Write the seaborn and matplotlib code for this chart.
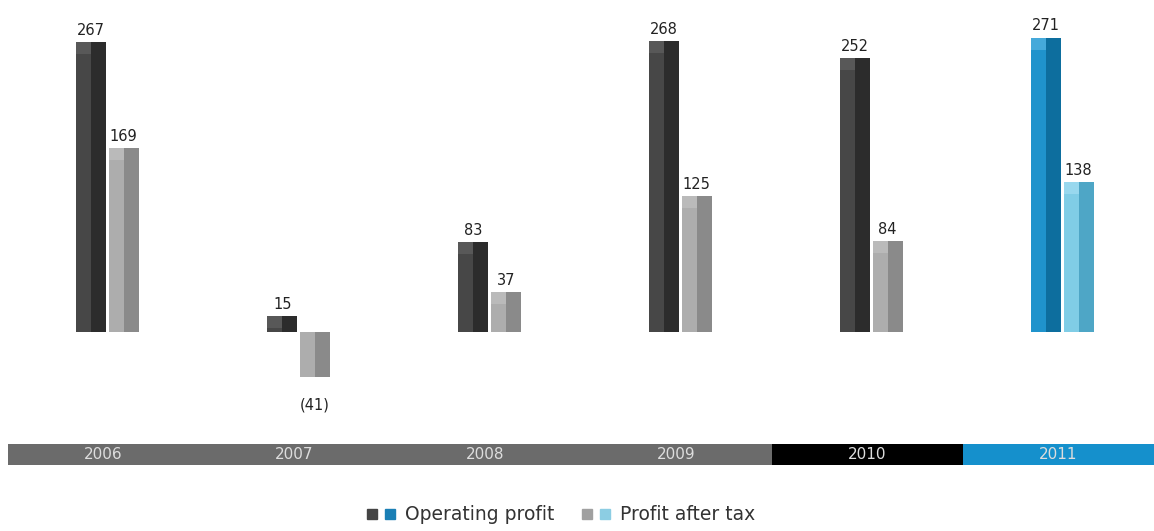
import pandas as pd
import matplotlib.pyplot as plt
import seaborn as sns
from matplotlib.patches import Rectangle
from matplotlib.lines import Line2D
from matplotlib.legend_handler import HandlerTuple

# data
years = ['2006', '2007', '2008', '2009', '2010', '2011']
operating_profit = [267, 15, 83, 268, 252, 271]
profit_after_tax = [169, -41, 37, 125, 84, 138]
series = ['Operating profit', 'Profit after tax']
band_colors = ['#6b6b6b', '#6b6b6b', '#6b6b6b', '#6b6b6b', '#000000', '#1590cc']

df = pd.DataFrame({
    'Year': years * 2,
    'Series': [series[0]] * len(years) + [series[1]] * len(years),
    'Value': operating_profit + profit_after_tax,
})

sns.set_style('white')
plt.rcParams['font.family'] = ['DejaVu Sans']

W, H = 1154, 531
fig = plt.figure(figsize=(W / 100, H / 100), dpi=100)
ax = fig.add_axes([12 / W, 91 / H, 1146 / W, 440 / H])

sns.barplot(data=df, x='Year', y='Value', hue='Series',
            palette=['#474747', '#ababab'], width=0.34, gap=0.09,
            saturation=1, legend=False, ax=ax)

# light (left) and dark (right) halves for the two-tone look
light = [['#474747'] * 5 + ['#1f93cc'], ['#adadad'] * 5 + ['#80cde6']]
dark = [['#2c2c2c'] * 5 + ['#0d6e9e'], ['#8a8a8a'] * 5 + ['#4ea6c6']]
caps = [['#585858'] * 5 + ['#45a9da'], ['#bababa'] * 5 + ['#98d8ee']]

k = 267 / 290  # data units per pixel
for s, cont in enumerate(ax.containers):
    for i, bar in enumerate(cont):
        bar.set_facecolor(light[s][i])
        bar.set_edgecolor('none')
        x0, w, h = bar.get_x(), bar.get_width(), bar.get_height()
        ax.add_patch(Rectangle((x0 + w / 2, bar.get_y()), w / 2, h,
                               facecolor=dark[s][i], edgecolor='none'))
        if h > 0:
            cap = min(12 * k, h)
            ax.add_patch(Rectangle((x0, h - cap), w / 2, cap,
                                   facecolor=caps[s][i], edgecolor='none'))
        xc = x0 + w / 2
        if h >= 0:
            ax.annotate(f'{h:.0f}', (xc, h), xytext=(0, 3), textcoords='offset points',
                        ha='center', va='bottom', fontsize=10.5, color='#222222')
        else:
            ax.annotate(f'({abs(h):.0f})', (xc, h), xytext=(0, -15), textcoords='offset points',
                        ha='center', va='top', fontsize=10.5, color='#222222')

ax.set_ylim(-(440 - 332) * k, 332 * k)
ax.set_xlim(-0.5, len(years) - 0.5)
ax.axis('off')

# year band
band = fig.add_axes([8 / W, (H - 465) / H, 1146 / W, 21 / H])
band.set_xlim(-0.5, len(years) - 0.5)
band.set_ylim(0, 1)
for i, (yr, c) in enumerate(zip(years, band_colors)):
    band.axvspan(i - 0.5, i + 0.5, color=c, lw=0)
    band.text(i, 0.5, yr, ha='center', va='center', fontsize=11, color='#dddddd')
band.axis('off')

sq = dict(marker='s', linestyle='none', markersize=6.5)
handles = [
    (Line2D([], [], color='#444444', **sq), Line2D([], [], color='#1a7fb5', **sq)),
    (Line2D([], [], color='#a0a0a0', **sq), Line2D([], [], color='#8ccde3', **sq)),
]
fig.legend(handles, series, handler_map={tuple: HandlerTuple(ndivide=None, pad=0.1)},
           loc='center', bbox_to_anchor=(0.485, (H - 515) / H), ncol=2, frameon=False,
           fontsize=13.5, labelcolor='#333333', handlelength=1.8, columnspacing=1.3,
           handletextpad=0.4)

fig.savefig('out.png', dpi=100)
